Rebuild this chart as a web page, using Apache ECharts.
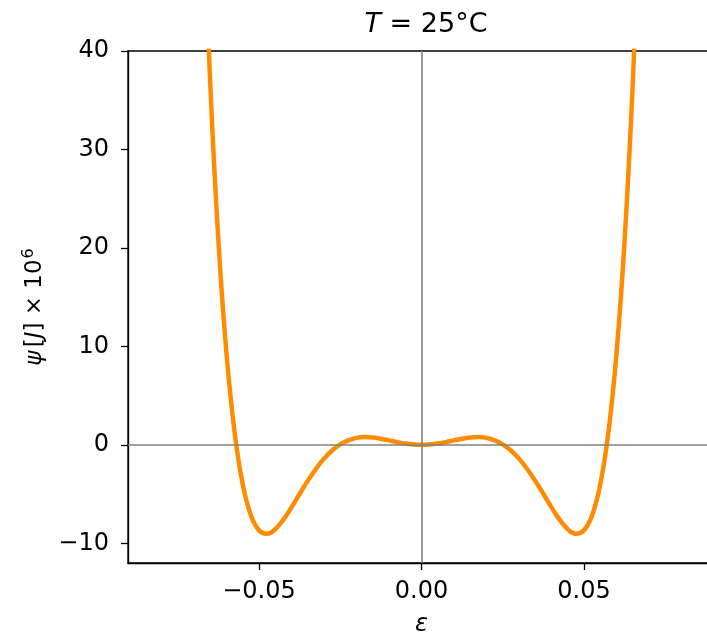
<!DOCTYPE html>
<html>
<head>
<meta charset="utf-8">
<script src="https://cdn.jsdelivr.net/npm/echarts@6/dist/echarts.min.js"></script>
<style>
  html, body { margin: 0; padding: 0; background: #fff; }
  #chart { width: 707px; height: 639px; }
</style>
</head>
<body>
<div id="chart"></div>
<script>
// Strain values (ε) and free energy ψ (in units of 1e-6 J) along the curve
const eps = [
  -0.0675, -0.065, -0.0625, -0.06, -0.0575, -0.055, -0.0525, -0.05, -0.0475, -0.045,
  -0.0425, -0.04, -0.0375, -0.035, -0.0325, -0.03, -0.0275, -0.025, -0.0225, -0.02,
  -0.0175, -0.015, -0.0125, -0.01, -0.0075, -0.005, -0.0025, 0,
  0.0025, 0.005, 0.0075, 0.01, 0.0125, 0.015, 0.0175, 0.02, 0.0225, 0.025,
  0.0275, 0.03, 0.0325, 0.035, 0.0375, 0.04, 0.0425, 0.045, 0.0475, 0.05,
  0.0525, 0.055, 0.0575, 0.06, 0.0625, 0.065, 0.0675
];
const psi = [
  57.8, 36.7, 20.8, 9.29, 1.25, -4.02, -7.15, -8.67, -9.03, -8.57,
  -7.60, -6.35, -4.99, -3.66, -2.45, -1.40, -0.58, 0.05, 0.45, 0.71,
  0.79, 0.74, 0.62, 0.45, 0.28, 0.13, 0.03, 0,
  0.03, 0.13, 0.28, 0.45, 0.62, 0.74, 0.79, 0.71, 0.45, 0.05,
  -0.58, -1.40, -2.45, -3.66, -4.99, -6.35, -7.60, -8.57, -9.03, -8.67,
  -7.15, -4.02, 1.25, 9.29, 20.8, 36.7, 57.8
];

// Axis ticks
const xTicks = [-0.05, 0, 0.05];
const yTicks = [-10, 0, 10, 20, 30, 40];

const font = 'DejaVu Sans';
const fmtNum = (v, d) => {
  const s = Math.abs(v).toFixed(d);
  return v < 0 ? '\u2212' + s : s;
};

const chart = echarts.init(document.getElementById('chart'), null, { renderer: 'canvas' });

chart.setOption({
  animation: false,
  backgroundColor: '#ffffff',
  title: {
    text: '{i|T}{n| = 25°C}',
    left: 421,
    textAlign: 'center',
    top: 6,
    textStyle: {
      rich: {
        i: { fontFamily: font, fontStyle: 'italic', fontWeight: 'normal', fontSize: 27, color: '#000' },
        n: { fontFamily: font, fontWeight: 'normal', fontSize: 27, color: '#000' }
      }
    }
  },
  grid: {
    left: 128,
    top: 51,
    width: 587,
    height: 512,
    show: true,
    borderColor: '#000',
    borderWidth: 1.3,
    containLabel: false,
    outerBoundsMode: 'none'
  },
  xAxis: {
    type: 'value',
    min: -0.0903,
    max: 0.0903,
    name: 'ε',
    nameLocation: 'middle',
    nameGap: 50,
    nameTextStyle: { fontFamily: font, fontStyle: 'italic', fontSize: 24, color: '#000' },
    axisLine: { show: true, onZero: false, lineStyle: { color: '#000', width: 1.3 } },
    axisTick: { show: true, length: 7, customValues: xTicks, lineStyle: { color: '#000', width: 1.3 } },
    axisLabel: {
      customValues: xTicks,
      margin: 17,
      fontFamily: font,
      fontSize: 24,
      color: '#000',
      formatter: v => fmtNum(v, 2)
    },
    splitLine: { show: false }
  },
  yAxis: {
    type: 'value',
    min: -12,
    max: 40,
    name: '{g|ψ} {n|[}{g|J}{n|] × 10}{s|6}',
    nameLocation: 'middle',
    nameRotate: 90,
    nameGap: 79,
    nameTextStyle: {
      rich: {
        g: { fontFamily: font, fontStyle: 'italic', fontSize: 23, color: '#000' },
        n: { fontFamily: font, fontSize: 23, color: '#000' },
        s: { fontFamily: font, fontSize: 16, color: '#000', padding: [0, 0, 12, 1] }
      }
    },
    axisLine: { show: true, onZero: false, lineStyle: { color: '#000', width: 1.3 } },
    axisTick: { show: true, length: 7, customValues: yTicks, lineStyle: { color: '#000', width: 1.3 } },
    axisLabel: {
      customValues: yTicks,
      margin: 19,
      fontFamily: font,
      fontSize: 24,
      color: '#000',
      formatter: v => fmtNum(v, 0)
    },
    splitLine: { show: false }
  },
  series: [
    {
      // zero reference lines
      type: 'line',
      data: [],
      z: 1,
      silent: true,
      markLine: {
        silent: true,
        symbol: 'none',
        label: { show: false },
        lineStyle: { color: '#808080', width: 1.6, type: 'solid' },
        data: [{ xAxis: 0 }, { yAxis: 0 }]
      }
    },
    {
      type: 'line',
      z: 3,
      data: eps.map((e, i) => [e, psi[i]]),
      showSymbol: false,
      smooth: 0.4,
      clip: true,
      lineStyle: { color: '#ff8c00', width: 4.5 }
    }
  ]
});
</script>
</body>
</html>
